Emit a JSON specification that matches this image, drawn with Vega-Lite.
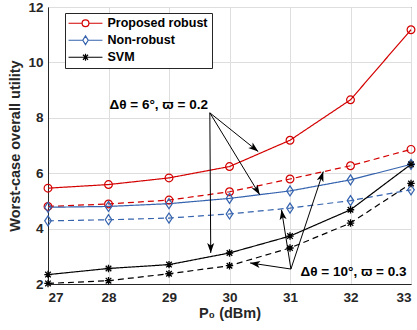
{
  "$schema": "https://vega.github.io/schema/vega-lite/v6.json",
  "width": 363,
  "height": 277,
  "autosize": {"type": "none"},
  "padding": {"left": 48, "top": 7, "right": 6, "bottom": 46},
  "background": "white",
  "config": {
    "font": "Liberation Sans",
    "view": {"stroke": "#262626", "strokeWidth": 1},
    "axis": {
      "labelFont": "Liberation Sans", "labelFontWeight": "bold", "labelFontSize": 13.5, "labelColor": "#262626",
      "titleFont": "Liberation Sans", "titleFontWeight": "bold", "titleFontSize": 14.5, "titleColor": "#262626",
      "domainColor": "#262626", "ticks": false, "gridColor": "#dedede", "gridOpacity": 1, "gridWidth": 1
    }
  },
  "datasets": {
    "series": [
      {"P0": 27, "utility": 5.46, "scheme": "Proposed robust", "setting": "6deg"},
      {"P0": 28, "utility": 5.59, "scheme": "Proposed robust", "setting": "6deg"},
      {"P0": 29, "utility": 5.83, "scheme": "Proposed robust", "setting": "6deg"},
      {"P0": 30, "utility": 6.24, "scheme": "Proposed robust", "setting": "6deg"},
      {"P0": 31, "utility": 7.19, "scheme": "Proposed robust", "setting": "6deg"},
      {"P0": 32, "utility": 8.65, "scheme": "Proposed robust", "setting": "6deg"},
      {"P0": 33, "utility": 11.18, "scheme": "Proposed robust", "setting": "6deg"},
      {"P0": 27, "utility": 4.80, "scheme": "Proposed robust", "setting": "10deg"},
      {"P0": 28, "utility": 4.89, "scheme": "Proposed robust", "setting": "10deg"},
      {"P0": 29, "utility": 5.03, "scheme": "Proposed robust", "setting": "10deg"},
      {"P0": 30, "utility": 5.33, "scheme": "Proposed robust", "setting": "10deg"},
      {"P0": 31, "utility": 5.79, "scheme": "Proposed robust", "setting": "10deg"},
      {"P0": 32, "utility": 6.27, "scheme": "Proposed robust", "setting": "10deg"},
      {"P0": 33, "utility": 6.86, "scheme": "Proposed robust", "setting": "10deg"},
      {"P0": 27, "utility": 4.77, "scheme": "Non-robust", "setting": "6deg"},
      {"P0": 28, "utility": 4.80, "scheme": "Non-robust", "setting": "6deg"},
      {"P0": 29, "utility": 4.90, "scheme": "Non-robust", "setting": "6deg"},
      {"P0": 30, "utility": 5.09, "scheme": "Non-robust", "setting": "6deg"},
      {"P0": 31, "utility": 5.36, "scheme": "Non-robust", "setting": "6deg"},
      {"P0": 32, "utility": 5.76, "scheme": "Non-robust", "setting": "6deg"},
      {"P0": 33, "utility": 6.32, "scheme": "Non-robust", "setting": "6deg"},
      {"P0": 27, "utility": 4.28, "scheme": "Non-robust", "setting": "10deg"},
      {"P0": 28, "utility": 4.32, "scheme": "Non-robust", "setting": "10deg"},
      {"P0": 29, "utility": 4.38, "scheme": "Non-robust", "setting": "10deg"},
      {"P0": 30, "utility": 4.53, "scheme": "Non-robust", "setting": "10deg"},
      {"P0": 31, "utility": 4.74, "scheme": "Non-robust", "setting": "10deg"},
      {"P0": 32, "utility": 5.01, "scheme": "Non-robust", "setting": "10deg"},
      {"P0": 33, "utility": 5.40, "scheme": "Non-robust", "setting": "10deg"},
      {"P0": 27, "utility": 2.34, "scheme": "SVM", "setting": "6deg"},
      {"P0": 28, "utility": 2.56, "scheme": "SVM", "setting": "6deg"},
      {"P0": 29, "utility": 2.70, "scheme": "SVM", "setting": "6deg"},
      {"P0": 30, "utility": 3.12, "scheme": "SVM", "setting": "6deg"},
      {"P0": 31, "utility": 3.73, "scheme": "SVM", "setting": "6deg"},
      {"P0": 32, "utility": 4.68, "scheme": "SVM", "setting": "6deg"},
      {"P0": 33, "utility": 6.32, "scheme": "SVM", "setting": "6deg"},
      {"P0": 27, "utility": 2.02, "scheme": "SVM", "setting": "10deg"},
      {"P0": 28, "utility": 2.12, "scheme": "SVM", "setting": "10deg"},
      {"P0": 29, "utility": 2.37, "scheme": "SVM", "setting": "10deg"},
      {"P0": 30, "utility": 2.66, "scheme": "SVM", "setting": "10deg"},
      {"P0": 31, "utility": 3.30, "scheme": "SVM", "setting": "10deg"},
      {"P0": 32, "utility": 4.20, "scheme": "SVM", "setting": "10deg"},
      {"P0": 33, "utility": 5.63, "scheme": "SVM", "setting": "10deg"}
    ],
    "arrows": [
      {"x": 29.675, "y": 8.18, "x2": 30.475, "y2": 6.78, "angle": 128.7},
      {"x": 29.675, "y": 8.18, "x2": 30.50, "y2": 5.22, "angle": 148.7},
      {"x": 29.675, "y": 8.18, "x2": 29.69, "y2": 3.12, "angle": 179.6},
      {"x": 31.015, "y": 2.54, "x2": 30.34, "y2": 2.76, "angle": 278.5},
      {"x": 31.015, "y": 2.54, "x2": 30.86, "y2": 4.68, "angle": 351.0},
      {"x": 31.015, "y": 2.54, "x2": 31.55, "y2": 6.06, "angle": 18.4}
    ],
    "labels": [
      {"x": 28.83, "y": 8.48, "text": "Δθ = 6°, ϖ = 0.2"},
      {"x": 32.05, "y": 2.42, "text": "Δθ = 10°, ϖ = 0.3"}
    ]
  },
  "layer": [
    {
      "data": {"name": "series"},
      "mark": {"type": "line", "strokeWidth": 1.2},
      "encoding": {
        "x": {"field": "P0", "type": "quantitative", "scale": {"domain": [27, 33]},
              "axis": {"values": [27, 28, 29, 30, 31, 32, 33], "format": "d", "title": "P₀ (dBm)", "labelPadding": 6, "titlePadding": 3, "grid": true}},
        "y": {"field": "utility", "type": "quantitative", "scale": {"domain": [2, 12]},
              "axis": {"values": [2, 4, 6, 8, 10, 12], "format": "d", "title": "Worst-case overall utility", "labelPadding": 5, "titlePadding": 5, "grid": true}},
        "color": {"field": "scheme", "type": "nominal",
                  "scale": {"domain": ["Proposed robust", "Non-robust", "SVM"], "range": ["#d40000", "#3563ae", "#000000"]},
                  "legend": {
                    "title": null, "orient": "none", "legendX": 17, "legendY": 6,
                    "fillColor": "white", "strokeColor": "#262626", "padding": 4,
                    "labelFont": "Liberation Sans", "labelFontWeight": "bold", "labelFontSize": 12.5, "labelColor": "#000000",
                    "symbolSize": 46, "symbolStrokeWidth": 1.2, "labelOffset": 26, "rowPadding": 3,
                    "symbolType": "M-5,0L-1,0M1,0L5,0",
                    "encode": {"symbols": {"update": {
                      "shape": {"signal": "datum.value === 'Proposed robust' ? 'M-5,0L-1,0M1,0L5,0M-1,0A1,1 0 1,0 1,0A1,1 0 1,0 -1,0' : datum.value === 'Non-robust' ? 'M-5,0L-0.8,0M0.8,0L5,0M0,-1.3L0.8,0L0,1.3L-0.8,0Z' : 'M-5,0L5,0M0,-1L0,1M-0.75,-0.75L0.75,0.75M-0.75,0.75L0.75,-0.75'"},
                      "fill": {"value": "transparent"},
                      "x": {"value": 16.5}
                    }}}
                  }},
        "strokeDash": {"field": "setting", "type": "nominal",
                       "scale": {"domain": ["6deg", "10deg"], "range": [[1, 0], [6, 4]]}, "legend": null}
      }
    },
    {
      "data": {"name": "series"},
      "transform": [{"filter": "datum.scheme === 'Proposed robust'"}],
      "mark": {"type": "point", "filled": false, "size": 60, "strokeWidth": 1.2, "opacity": 1, "shape": "circle"},
      "encoding": {
        "x": {"field": "P0", "type": "quantitative"},
        "y": {"field": "utility", "type": "quantitative"},
        "color": {"field": "scheme", "type": "nominal"}
      }
    },
    {
      "data": {"name": "series"},
      "transform": [{"filter": "datum.scheme === 'Non-robust'"}],
      "mark": {"type": "point", "filled": false, "size": 60, "strokeWidth": 1.2, "opacity": 1, "shape": "M0,-1.3L0.85,0L0,1.3L-0.85,0Z"},
      "encoding": {
        "x": {"field": "P0", "type": "quantitative"},
        "y": {"field": "utility", "type": "quantitative"},
        "color": {"field": "scheme", "type": "nominal"}
      }
    },
    {
      "data": {"name": "series"},
      "transform": [{"filter": "datum.scheme === 'SVM'"}],
      "mark": {"type": "point", "filled": false, "size": 55, "strokeWidth": 1.3, "opacity": 1, "shape": "M-1,0L1,0M0,-1L0,1M-0.75,-0.75L0.75,0.75M-0.75,0.75L0.75,-0.75"},
      "encoding": {
        "x": {"field": "P0", "type": "quantitative"},
        "y": {"field": "utility", "type": "quantitative"},
        "color": {"field": "scheme", "type": "nominal"}
      }
    },
    {
      "data": {"name": "arrows"},
      "mark": {"type": "rule", "color": "black", "strokeWidth": 1},
      "encoding": {
        "x": {"field": "x", "type": "quantitative"},
        "y": {"field": "y", "type": "quantitative"},
        "x2": {"field": "x2"},
        "y2": {"field": "y2"}
      }
    },
    {
      "data": {"name": "arrows"},
      "mark": {"type": "point", "filled": true, "color": "black", "opacity": 1, "size": 100,
               "shape": "M0,0L-0.7,2L0,1.5L0.7,2Z"},
      "encoding": {
        "x": {"field": "x2", "type": "quantitative"},
        "y": {"field": "y2", "type": "quantitative"},
        "angle": {"field": "angle", "type": "quantitative", "scale": null}
      }
    },
    {
      "data": {"name": "labels"},
      "mark": {"type": "text", "font": "Liberation Sans", "fontWeight": "bold", "fontSize": 13.5, "color": "black"},
      "encoding": {
        "x": {"field": "x", "type": "quantitative"},
        "y": {"field": "y", "type": "quantitative"},
        "text": {"field": "text"}
      }
    }
  ]
}
